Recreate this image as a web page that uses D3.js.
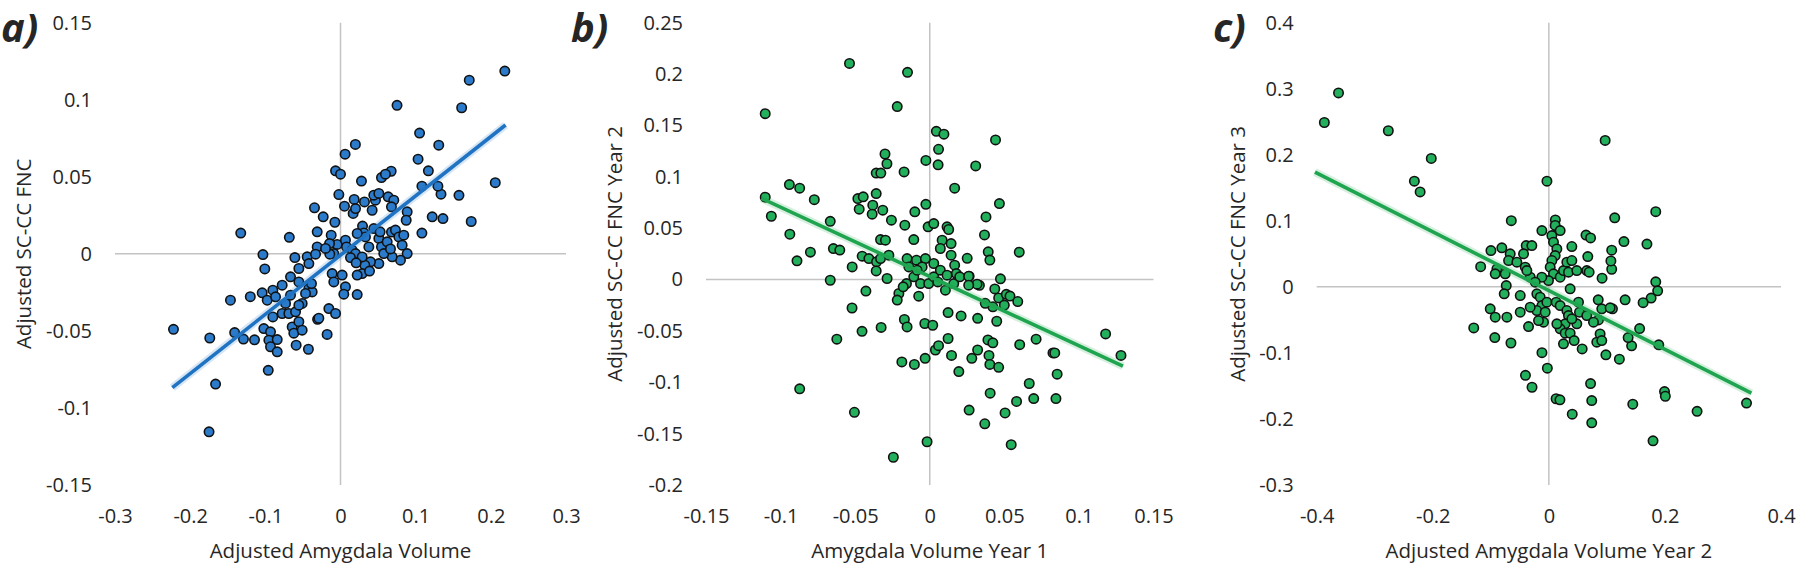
<!DOCTYPE html>
<html>
<head>
<meta charset="utf-8">
<script src="https://cdnjs.cloudflare.com/ajax/libs/d3/7.8.5/d3.min.js"></script>
<style>
  body { margin: 0; background: #fff; }
  text { font-family: "Open Sans", sans-serif; fill: #262626; }
</style>
</head>
<body>
<div id="chart"></div>
<script>
// values, [x, y]
var pointsA = [
  [0.2186,0.1186],[0.1713,0.1127],[0.0752,0.0964],[0.1612,0.0948],[0.1052,0.0784],[0.0198,0.0710],
  [0.1307,0.0705],[0.0061,0.0647],[0.1032,0.0614],[0.2059,0.0462],[0.1169,0.0539],[0.1576,0.0380],
  [0.1739,0.0210],[0.1220,0.0240],[0.1363,0.0229],[0.1083,0.0135],[0.1337,0.0387],[0.1296,0.0439],
  [0.1083,0.0439],[-0.1327,0.0135],[-0.0681,0.0107],[-0.1032,-0.0005],[-0.1007,-0.0098],[-0.1464,-0.0301],
  [-0.1200,-0.0278],[-0.2222,-0.0490],[-0.1739,-0.0546],[-0.1408,-0.0511],[-0.1291,-0.0553],[-0.1144,-0.0558],
  [-0.1662,-0.0845],[-0.1749,-0.1155],[-0.0961,-0.0756],[-0.0427,-0.0619],[-0.0590,-0.0593],[-0.0178,-0.0523],
  [-0.0305,-0.0425],
  [-0.0066,0.0539],[0,0.0517],[0.0674,0.0536],[0.0545,0.0495],[0.0598,0.0517],[0.0279,0.0472],
  [-0.0022,0.0385],[0.0182,0.0353],[0.0053,0.0309],[0.0168,0.0262],[0.02,0.0294],
  [0.0319,0.0337],[0.0421,0.0283],[0.0465,0.0348],[0.0443,0.0381],[0.051,0.0392],
  [0.0634,0.037],[0.0709,0.0348],[0.0678,0.0305],[0.0887,0.0273],[0.0874,0.0218],
  [-0.0346,0.0299],[-0.023,0.024],[-0.031,0.0143],[-0.0075,0.0205],
  [-0.0124,0.0121],[-0.0044,0.0061],[-0.0146,0.0067],[-0.0089,0.0002],[-0.0142,-0.0002],
  [0.0066,0.0089],[0.008,0.0045],[0.0155,0.0024],[0.02,0.0002],[0.0133,-0.0024],
  [0.0293,0.018],[0.031,0.0136],[0.0332,0.011],[0.0222,0.0132],
  [0.051,0.01],[0.0545,0.0045],[0.0621,0.0078],[0.0678,0.0141],[0.0731,0.0154],[0.0776,0.011],
  [0.082,0.0056],[0.0842,0.0121],[0.0887,0.0002],[0.0798,-0.0041],[0.0687,-0.0019],[0.0576,0.0002],
  [0.051,-0.0063],[0.0399,-0.0052],[0.0324,-0.0074],[0.0288,-0.002],[0.0288,-0.0128],[0.0222,-0.0138],
  [0.0386,-0.0112],[0.0208,-0.0058],[0.0443,0.0164],[0.0377,0.0045],[0.0665,0.0032],[0.0527,0.0143],
  [-0.0607,-0.0024],[-0.0443,-0.0019],[-0.0554,-0.0095],[-0.0421,-0.0063],[-0.031,0.0045],[-0.0332,-0.0002],
  [-0.0199,0.0035],[-0.0111,-0.0128],[-0.0089,-0.0182],[0.0022,-0.0138],[0.0066,-0.0214],[0.0044,-0.0262],
  [0.0222,-0.0264],[-0.0665,-0.0149],[-0.0776,-0.0203],[-0.0554,-0.0182],[-0.0421,-0.0225],[-0.0377,-0.0247],
  [-0.0465,-0.0257],[-0.051,-0.0322],[-0.0386,-0.0193],
  [-0.1042,-0.0253],[-0.09,-0.0236],[-0.0975,-0.0301],[-0.0864,-0.0279],[-0.0731,-0.0322],[-0.0665,-0.0268],
  [-0.0776,-0.0387],[-0.09,-0.0409],[-0.0687,-0.0387],[-0.0598,-0.0376],[-0.0554,-0.0333],
  [-0.102,-0.0485],[-0.0931,-0.0506],[-0.0953,-0.056],[-0.0842,-0.0556],[-0.0931,-0.0603],[-0.0842,-0.0636],
  [-0.0643,-0.0474],[-0.0621,-0.0515],[-0.0554,-0.044],[-0.051,-0.0495],[-0.0288,-0.0418],[-0.0155,-0.0355],
  [-0.0066,-0.0387]
];

var pointsB = [
  [-0.0538,0.2104],[-0.0149,0.2017],[-0.0218,0.1684],[-0.1103,0.1614],[0.0044,0.1443],[0.0095,0.1415],
  [0.0059,0.1268],[0.0441,0.1359],[-0.03,0.1222],[-0.0287,0.1127],[-0.0026,0.1159],[0.0056,0.1117],
  [0.0308,0.1106],[-0.0172,0.1047],[-0.0359,0.1036],[-0.0328,0.1036],[-0.0941,0.0924],[-0.0872,0.0889],
  [0.0167,0.0889],[-0.0359,0.0837],[-0.1103,0.0802],[-0.0774,0.0777],[-0.1062,0.0616],[0.0467,0.0739],
  [-0.0026,0.0732],[0.0377,0.0609],[-0.0667,0.0567],[-0.0938,0.0441],[0.0367,0.0434],[0.06,0.0266],
  [-0.08,0.0266],[-0.089,0.0182],[-0.0646,0.0301],[-0.0603,0.0287],[-0.0667,-0.0007],[-0.0428,-0.0112],
  [-0.0521,-0.0277],[-0.0454,-0.0504],[-0.0326,-0.0466],[-0.0623,-0.0581],[-0.0872,-0.1064],[-0.0505,-0.1292],
  [-0.0244,-0.173],[-0.0018,-0.1579],[-0.0187,-0.0802],[-0.0103,-0.0826],[-0.0031,-0.0767],[0.0038,-0.0686],
  [0.0059,-0.0644],[0.0123,-0.0574],[0.0146,-0.0739],[0.0195,-0.0896],[0.0264,-0.1271],[0.0282,-0.0767],
  [0.0321,-0.0686],[0.039,-0.0588],[0.0423,-0.0616],[0.0397,-0.0739],[0.0403,-0.0826],[0.0462,-0.0854],
  [0.0405,-0.1106],[0.0369,-0.1404],[0.0505,-0.1299],[0.0546,-0.1607],[0.0582,-0.1187],[0.0667,-0.1012],
  [0.0697,-0.1159],[0.0603,-0.0634],[0.0713,-0.0581],[0.0826,-0.0714],[0.0838,-0.0714],[0.0854,-0.0921],
  [0.0846,-0.1159],[0.1179,-0.0529],[0.1282,-0.0739],[0.021,-0.0354],[0.0321,-0.0378],[0.0123,-0.0322],
  [0.0333,-0.0056],[0.0474,0.0007],[0.0436,-0.0091],[0.0462,-0.0179],[0.0513,-0.0144],[0.0538,-0.0161],
  [0.059,-0.0214],[0.0449,-0.0406],[0.0423,-0.0266],[0.0372,-0.0231],[0.05,-0.0249],
  [0.0251,0.0207],[0.0264,0.0032],[0.0392,0.027],[0.0403,0.0189],
  [-0.0482,0.0788],[-0.0446,0.0805],[-0.0473,0.0685],[-0.0382,0.0724],[-0.0386,0.0636],[-0.0315,0.0675],
  [-0.0257,0.0578],[-0.0167,0.0529],[-0.01,0.0659],
  [-0.033,0.0389],[-0.0297,0.0383],[-0.0107,0.0389],[-0.0011,0.0513],[0.0027,0.0545],[0.0116,0.0513],
  [0.0127,0.0487],[0.0083,0.0383],[0.0071,0.0302],[0.0143,0.035],[0.0143,0.0237],[0.0167,0.014],[0.0178,0.0058],
  [-0.0453,0.0227],[-0.0408,0.0204],[-0.0357,0.0172],[-0.033,0.0204],[-0.0274,0.0237],[-0.0359,0.0084],
  [-0.052,0.0123],[-0.0286,0.001],
  [-0.0152,0.0204],[-0.0089,0.0188],[-0.0029,0.0204],[0.0027,0.0156],[-0.0051,0.0123],[-0.014,0.0123],
  [-0.0107,0.0026],[-0.0062,-0.0039],[-0.0007,-0.0039],[0.0027,0.0026],[0.0071,0.0091],[0.0116,0.0042],
  [0.0054,-0.0023],[0.0105,-0.0104],[0.0161,-0.0039],[0.0201,0.0026],[0.0261,0.0032],[0.0317,-0.0045],
  [0.0261,-0.0055],[-0.0085,0.0091],[-0.0156,-0.0039],[-0.0207,-0.0136],[-0.0218,-0.02],[-0.0178,-0.0071],
  [-0.0074,-0.0162],[-0.017,-0.0389],[-0.0152,-0.0461],[-0.0033,-0.0428],[0.002,-0.0445]
];

var pointsC = [
  [-0.3624,0.2936],[-0.3868,0.2489],[-0.2766,0.2364],[-0.2026,0.1944],[-0.2317,0.1601],[-0.2218,0.1438],
  [0.097,0.2217],[-0.0033,0.1601],[0.1842,0.1138],[0.1135,0.1046],[-0.0647,0.1002],[0.0112,0.1013],
  [0.0158,0.0866],[0.1294,0.0686],[0.169,0.0648],[0.064,0.0784],[0.0719,0.0741],[-0.1175,0.0305],
  [-0.1294,-0.0621],[-0.0931,-0.0768],[-0.0653,-0.085],[-0.0119,-0.0997],[-0.0026,-0.1231],[-0.0403,-0.134],
  [-0.029,-0.152],[0.0125,-0.1694],[0.0191,-0.171],[0.0403,-0.1928],[0.0719,-0.1465],[0.0739,-0.1721],
  [0.0739,-0.2059],[0.1446,-0.1776],[0.1993,-0.1585],[0.2007,-0.1656],[0.2554,-0.1885],[0.1795,-0.2331],
  [0.3406,-0.1759],[0.0983,-0.1029],[0.1215,-0.1095],[0.1426,-0.0893],[0.1894,-0.0877],[0.1564,-0.0632],
  [0.1366,-0.0768],[0.1842,0.0076],[0.1875,-0.006],[0.1762,-0.0169],[0.1624,-0.024],[0.1314,-0.0196],
  [0.1096,-0.0332],[0.1083,0.0267],[0.1069,0.0392],[0.1083,0.0556],[0.0917,0.0131],[0.0851,-0.0196],
  [0.0109,0.093],
  [-0.012,0.0853],[0.0052,0.0777],[0.0195,0.0853],[0.008,0.0676],[0.0138,0.0575],[0.0109,0.0474],
  [0.0052,0.0399],[0.0023,0.0298],[0.008,0.0197],[-0.0006,0.0096],[-0.0121,0.0146],[0.0195,0.0146],
  [0.0252,0.0247],[0.0338,0.0222],[0.031,0.0374],[0.0396,0.0399],[0.0396,0.0611],[0.0367,-0.003],[0.0482,0.0247],
  [0.0671,0.0459],[0.0654,0.0247],[0.0694,0.0222],
  [-0.0998,0.055],[-0.081,0.0591],[-0.0666,0.05],[-0.0694,0.0399],[-0.0895,0.0273],[-0.0924,0.0197],
  [-0.0752,0.0197],[-0.0734,0.002],[-0.0769,-0.0106],[-0.0493,-0.0131],[-0.039,0.0626],[-0.0293,0.0626],
  [-0.0436,0.05],[-0.0551,0.0374],[-0.0407,0.0298],[-0.0321,0.0146],[-0.0235,0.0071],[-0.0379,0.0247],
  [-0.0207,-0.0106],[-0.0149,-0.0156],[-0.012,-0.0283],[-0.0207,-0.0358],[-0.0034,-0.0232],[-0.0063,-0.0384],
  [-0.0092,-0.0535],[-0.0178,-0.051],[-0.0321,-0.0308],[-0.0493,-0.0384],[-0.035,-0.0601],[0.0126,-0.0232],
  [0.0195,-0.0283],[0.031,-0.0358],[0.0338,-0.0434],[0.0281,-0.056],[0.0195,-0.0636],[0.0281,-0.0701],
  [0.0367,-0.0701],[0.0482,-0.056],[0.0436,-0.0813],[0.0252,-0.0863],[0.0511,-0.0232],[0.0528,-0.0384],
  [0.0654,-0.0434],[0.0912,-0.0333],[0.1056,-0.0318],[0.0855,-0.05],[0.0883,-0.0712],[0.0826,-0.0838],
  [0.0912,-0.0813],[0.0574,-0.0939],[0.0138,-0.056],[0.0396,-0.0484],[0.0769,-0.0535],
  [-0.101,-0.0333],[-0.0924,-0.0459],[-0.0723,-0.0459]
];

// trend line end points
var trendA = [[-0.2237,-0.0868],[0.2196,0.0836]];
var trendB = [[-0.1128,0.0791],[0.1295,-0.0844]];
var trendC = [[-0.403,0.1737],[0.349,-0.161]];

// tick values
var xTicksA = [-0.3,-0.2,-0.1,0,0.1,0.2,0.3];
var yTicksA = [-0.15,-0.1,-0.05,0,0.05,0.1,0.15];
var xTicksB = [-0.15,-0.1,-0.05,0,0.05,0.1,0.15];
var yTicksB = [-0.2,-0.15,-0.1,-0.05,0,0.05,0.1,0.15,0.2,0.25];
var xTicksC = [-0.4,-0.2,0,0.2,0.4];
var yTicksC = [-0.3,-0.2,-0.1,0,0.1,0.2,0.3,0.4];

var w = 1800, h = 566;
var plotTop = 22.7, plotBottom = 485;

var panels = [
  {label:'a)', labelX:1, pts:pointsA, trend:trendA, xTicks:xTicksA, yTicks:yTicksA,
   left:115, right:566, yTitleX:24, xTitle:'Adjusted Amygdala Volume', yTitle:'Adjusted SC-CC FNC',
   fill:'#2b7bca', line:'#1f73c2'},
  {label:'b)', labelX:571, pts:pointsB, trend:trendB, xTicks:xTicksB, yTicks:yTicksB,
   left:706, right:1153.5, yTitleX:615, xTitle:'Amygdala Volume Year 1', yTitle:'Adjusted SC-CC FNC Year 2',
   fill:'#22b05c', line:'#1fa54f'},
  {label:'c)', labelX:1213, pts:pointsC, trend:trendC, xTicks:xTicksC, yTicks:yTicksC,
   left:1316.7, right:1781, yTitleX:1238, xTitle:'Adjusted Amygdala Volume Year 2', yTitle:'Adjusted SC-CC FNC Year 3',
   fill:'#22b05c', line:'#1fa54f'}
];

var svg = d3.select('#chart')
  .append('svg')
  .attr('width', w)
  .attr('height', h);

panels.forEach(function(p){
  var x = d3.scaleLinear()
    .domain(d3.extent(p.xTicks))
    .range([p.left, p.right]);
  var y = d3.scaleLinear()
    .domain(d3.extent(p.yTicks))
    .range([plotBottom, plotTop]);

  var g = svg.append('g');

  // zero lines
  g.append('line')
    .attr('x1', x.range()[0]).attr('x2', x.range()[1])
    .attr('y1', y(0)).attr('y2', y(0))
    .attr('stroke', '#c3c3c3').attr('stroke-width', 1.5);
  g.append('line')
    .attr('x1', x(0)).attr('x2', x(0))
    .attr('y1', plotTop).attr('y2', plotBottom)
    .attr('stroke', '#c3c3c3').attr('stroke-width', 1.5);

  // axes (labels only)
  var yAxis = g.append('g')
    .attr('transform', 'translate(' + p.left + ',0)')
    .call(d3.axisLeft(y).tickValues(p.yTicks).tickSize(0).tickPadding(23)
      .tickFormat(function(d){ return String(d); }));
  var xAxis = g.append('g')
    .attr('transform', 'translate(0,' + plotBottom + ')')
    .call(d3.axisBottom(x).tickValues(p.xTicks).tickSize(0).tickPadding(24)
      .tickFormat(function(d){ return String(d); }));
  [yAxis, xAxis].forEach(function(a){
    a.select('.domain').remove();
    a.selectAll('text')
      .attr('font-family', '"Open Sans", sans-serif')
      .attr('font-size', 20)
      .attr('fill', '#262626');
  });

  // points
  g.selectAll('circle.pt')
    .data(p.pts)
    .enter()
    .append('circle')
    .attr('class', 'pt')
    .attr('cx', function(d){ return x(d[0]); })
    .attr('cy', function(d){ return y(d[1]); })
    .attr('r', 4.7)
    .attr('fill', p.fill)
    .attr('stroke', '#111')
    .attr('stroke-width', 1.6);

  // trend line with a soft halo
  var ln = d3.line()
    .x(function(d){ return x(d[0]); })
    .y(function(d){ return y(d[1]); });
  g.append('path')
    .attr('d', ln(p.trend))
    .attr('stroke', p.line).attr('stroke-opacity', 0.18)
    .attr('stroke-width', 8).attr('fill', 'none');
  g.append('path')
    .attr('d', ln(p.trend))
    .attr('stroke', p.line)
    .attr('stroke-width', 3.6).attr('fill', 'none');

  // titles
  g.append('text')
    .attr('x', (p.left + p.right) / 2)
    .attr('y', 558)
    .attr('text-anchor', 'middle')
    .attr('font-size', 20.5)
    .text(p.xTitle);
  g.append('text')
    .attr('transform', 'translate(' + p.yTitleX + ',' + ((plotTop + plotBottom) / 2) + ') rotate(-90)')
    .attr('dy', '0.35em')
    .attr('text-anchor', 'middle')
    .attr('font-size', 20.5)
    .text(p.yTitle);

  // panel letter
  g.append('text')
    .attr('x', p.labelX)
    .attr('y', 42)
    .attr('font-size', 40)
    .attr('font-weight', 'bold')
    .attr('font-style', 'italic')
    .attr('fill', '#000')
    .text(p.label);
});
</script>
</body>
</html>
